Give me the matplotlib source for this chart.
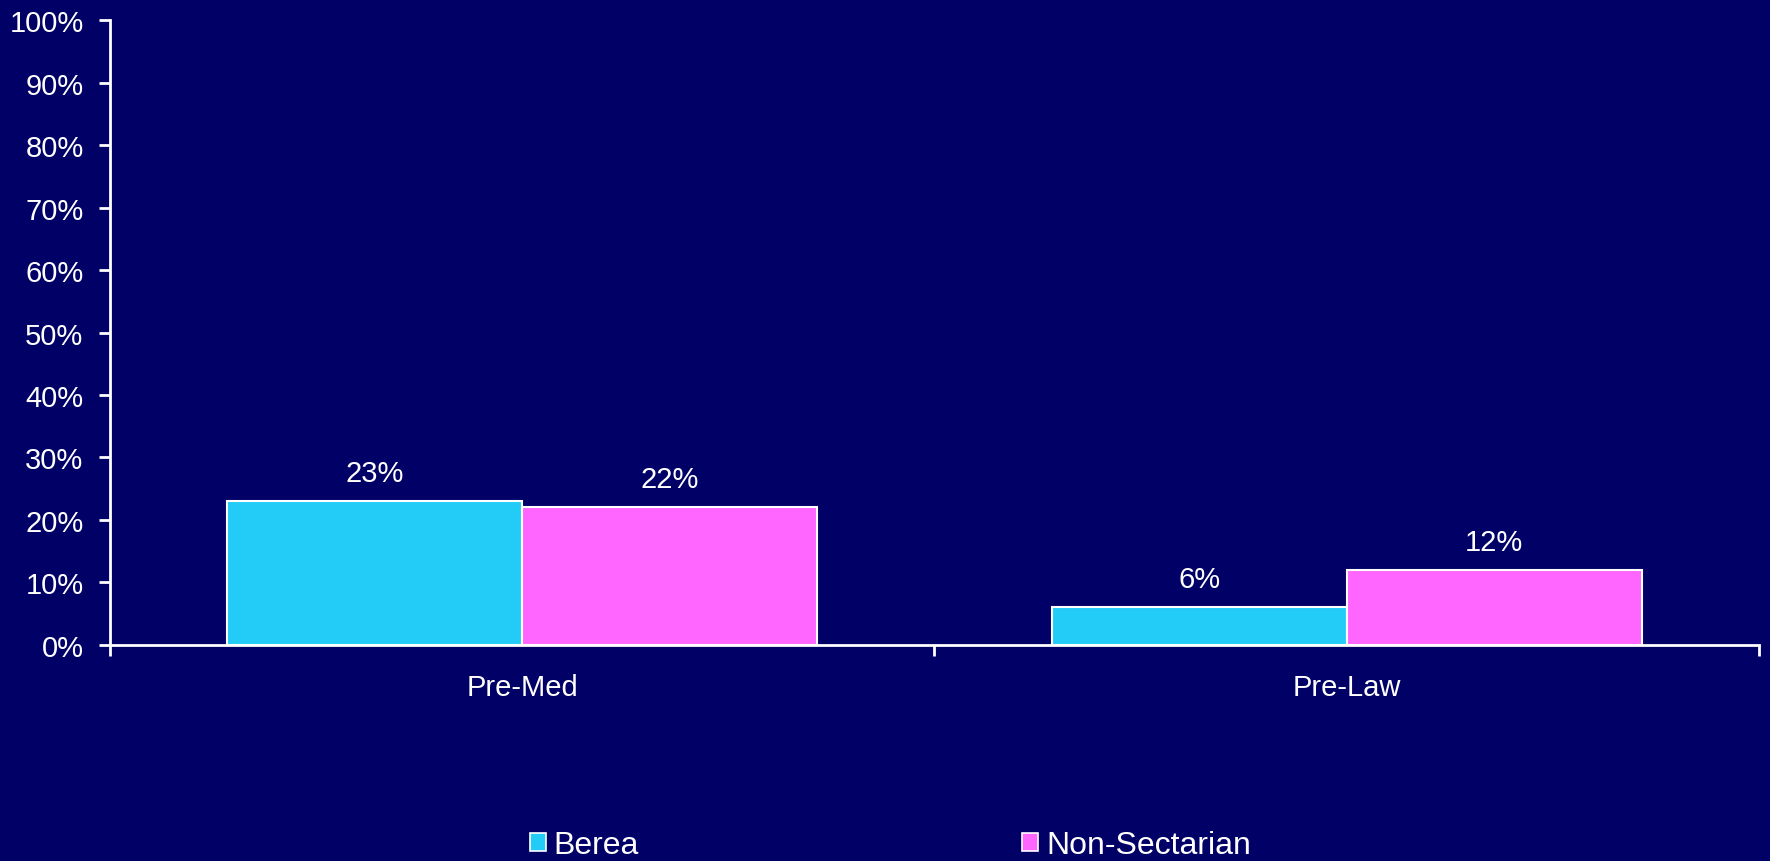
import matplotlib.pyplot as plt
import numpy as np
from matplotlib.ticker import FixedLocator
from matplotlib.patches import Patch

# data
categories = ["Pre-Med", "Pre-Law"]
series = ["Berea", "Non-Sectarian"]
berea = [23, 6]
non_sectarian = [22, 12]
y_ticks = [0, 10, 20, 30, 40, 50, 60, 70, 80, 90, 100]

bg = "#000066"
colors = ["#22CCF7", "#FF66FF"]

plt.rcParams["font.family"] = ["Liberation Sans", "DejaVu Sans"]

fig = plt.figure(figsize=(17.7, 8.62), dpi=100, facecolor=bg)
ax = fig.add_axes([0.0621, 0.2506, 0.9317, 0.725])
ax.set_facecolor(bg)

x = np.arange(len(categories))
w = 0.358
vals = [berea, non_sectarian]
for i, (name, v) in enumerate(zip(series, vals)):
    pos = x + (i - 0.5) * w
    bars = ax.bar(pos, v, w, color=colors[i], edgecolor="white", linewidth=1.5, label=name)
    for b, val in zip(bars, v):
        ax.text(b.get_x() + b.get_width() / 2, val + 2.3, f"{val}%",
                ha="center", va="bottom", color="white", fontsize=21)

ax.set_xlim(-0.5, len(categories) - 0.5)
ax.set_ylim(0, 100)

# ticks
ax.set_yticks(y_ticks)
ax.set_yticklabels([f"{t}%" for t in y_ticks])
ax.xaxis.set_major_locator(FixedLocator([-0.5, 0.5, 1.5]))
ax.xaxis.set_major_formatter(plt.NullFormatter())
ax.set_xticks(x, minor=True)
ax.set_xticklabels(categories, minor=True)
ax.tick_params(axis="x", which="minor", length=0, pad=20, labelsize=21, colors="white")
ax.tick_params(axis="x", which="major", length=8, width=2, color="white", direction="out")
ax.tick_params(axis="y", length=8, width=2, color="white", labelcolor="white",
               labelsize=21, direction="out", pad=11)

for s in ["top", "right"]:
    ax.spines[s].set_visible(False)
for s in ["left", "bottom"]:
    ax.spines[s].set_color("white")
    ax.spines[s].set_linewidth(2)

handles = [Patch(facecolor=c, edgecolor="white", linewidth=1.2) for c in colors]
fig.legend(handles, series, loc="lower left", bbox_to_anchor=(0.292, -0.014), ncol=2,
           frameon=False, fontsize=23, labelcolor="white", handlelength=0.5,
           handleheight=0.5, handletextpad=0.25, columnspacing=12.0,
           borderaxespad=0)

fig.savefig("out.png", dpi=100, facecolor=bg)
